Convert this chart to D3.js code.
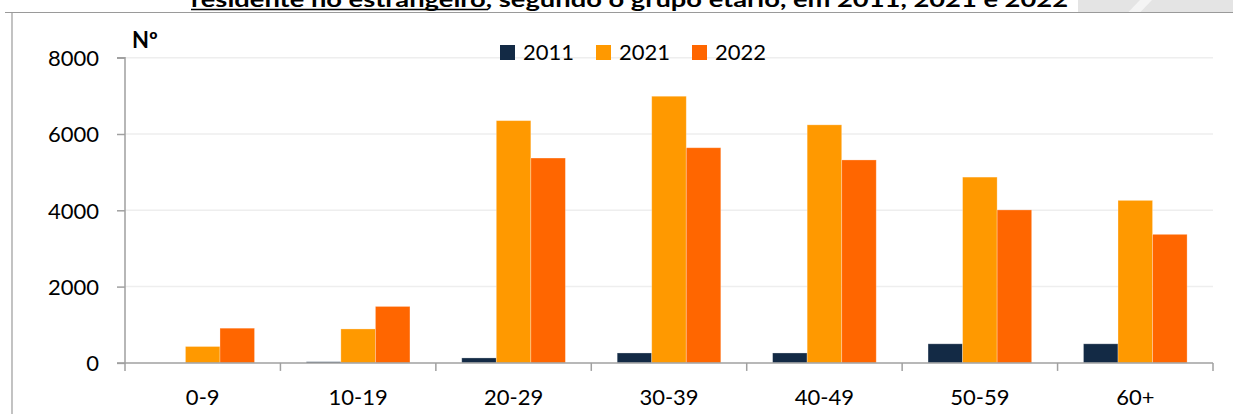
<!DOCTYPE html>
<html>
<head>
<meta charset="utf-8">
<script src="https://cdn.jsdelivr.net/npm/d3@7"></script>
<style>
  html, body { margin: 0; padding: 0; background: #fff; }
  svg { display: block; font-family: Lato, "Open Sans", sans-serif; }
</style>
</head>
<body>
<svg id="chart" width="1233" height="414"></svg>
<script>
const categories = ["0-9", "10-19", "20-29", "30-39", "40-49", "50-59", "60+"];
const seriesNames = ["2011", "2021", "2022"];
const values2011 = [0, 30, 130, 260, 260, 500, 500];
const values2021 = [430, 890, 6350, 6990, 6240, 4870, 4260];
const values2022 = [910, 1480, 5370, 5640, 5320, 4010, 3370];
const yTicks = [0, 2000, 4000, 6000, 8000];
const colors = ["#132a45", "#ff9900", "#ff6600"];
const titleStart = "residente no estrangeiro";
const titleRest = ", segundo o grupo etário, em 2011, 2021 e 2022";

const seriesValues = [values2011, values2021, values2022];
const svg = d3.select("#chart");

// decorative top-right band and frame
svg.append("rect").attr("x", 1078).attr("y", 0).attr("width", 155).attr("height", 12.5).attr("fill", "#e4e4e4");
svg.append("path").attr("d", "M1128,12.5 L1140,0 L1152,0 L1140,12.5 Z").attr("fill", "#f4f4f4");
svg.append("line").attr("x1", 5).attr("x2", 1233).attr("y1", 12.5).attr("y2", 12.5).attr("stroke", "#9a9a9a").attr("stroke-width", 1.2);
svg.append("line").attr("x1", 12).attr("x2", 12).attr("y1", 12.5).attr("y2", 414).attr("stroke", "#9a9a9a").attr("stroke-width", 1.2);

// title (cut off at top, as in the reference)
const title = svg.append("text").attr("x", 191).attr("y", 6.5)
  .attr("font-weight", "bold").attr("font-size", 21).attr("fill", "#000")
  .attr("textLength", 877).attr("lengthAdjust", "spacingAndGlyphs");
title.append("tspan").text(titleStart);
title.append("tspan").text(titleRest);
svg.append("line").attr("x1", 191).attr("x2", 488).attr("y1", 9.5).attr("y2", 9.5).attr("stroke", "#000").attr("stroke-width", 1.6);

const plotLeft = 125, plotRight = 1213, plotTop = 57.7, plotBottom = 362.9;
const y = d3.scaleLinear().domain([0, 8000]).range([plotBottom, plotTop]);
const x0 = d3.scaleBand().domain(categories).range([plotLeft, plotRight]).padding(0);
const bw = x0.bandwidth();
const x1 = d3.scaleBand().domain(seriesNames).range([bw / 6, bw * 5 / 6]).padding(0);

// gridlines
svg.append("g").selectAll("line").data(yTicks.filter(d => d > 0)).join("line")
  .attr("x1", plotLeft).attr("x2", plotRight)
  .attr("y1", d => y(d)).attr("y2", d => y(d))
  .attr("stroke", "#eeeeee").attr("stroke-width", 1.5);

// bars
const groups = svg.append("g").selectAll("g").data(categories).join("g")
  .attr("transform", d => `translate(${x0(d)},0)`);
groups.selectAll("rect")
  .data((c, i) => seriesNames.map((s, j) => ({ s, j, v: seriesValues[j][i] })))
  .join("rect")
  .attr("x", d => x1(d.s))
  .attr("width", x1.bandwidth())
  .attr("y", d => y(d.v))
  .attr("height", d => y(0) - y(d.v))
  .attr("fill", d => colors[d.j])
  .attr("stroke", d => d.v > 0 ? "rgba(255,255,255,0.35)" : "none")
  .attr("stroke-width", 0.8);

// y axis
const yAxis = d3.axisLeft(y).tickValues(yTicks).tickSize(8).tickFormat(d3.format("d"));
const gy = svg.append("g").attr("transform", `translate(${plotLeft},0)`).call(yAxis);
gy.select(".domain").attr("stroke", "#a0a0a0").attr("stroke-width", 1.5).attr("d", `M-8,${plotTop}H0V${plotBottom}H-8`);
gy.selectAll(".tick line").attr("stroke", "#a0a0a0").attr("stroke-width", 1.5);
gy.selectAll(".tick text").attr("x", -26).attr("dy", "0.36em")
  .attr("font-size", 22).attr("font-family", "Lato, sans-serif").attr("fill", "#000");

// x axis
const xAxis = d3.axisBottom(x0).tickSize(0).tickPadding(0);
const gx = svg.append("g").attr("transform", `translate(0,${plotBottom})`).call(xAxis);
gx.select(".domain").attr("stroke", "#a0a0a0").attr("stroke-width", 1.5).attr("d", `M${plotLeft},0H${plotRight}`);
gx.selectAll(".tick text").attr("y", 42).attr("dy", 0)
  .attr("font-size", 22).attr("font-family", "Lato, sans-serif").attr("fill", "#000");
const boundaries = categories.map(c => x0(c)).concat([plotRight]);
gx.append("g").selectAll("line").data(boundaries).join("line")
  .attr("x1", d => d).attr("x2", d => d).attr("y1", 0).attr("y2", 8)
  .attr("stroke", "#a0a0a0").attr("stroke-width", 1.5);

// unit label
svg.append("text").attr("x", 132).attr("y", 48).attr("font-weight", "bold")
  .attr("font-size", 22).attr("fill", "#000").text("Nº");

// legend
const legendX = [500, 596, 692];
const lg = svg.append("g").selectAll("g").data(seriesNames).join("g")
  .attr("transform", (d, i) => `translate(${legendX[i]},45)`);
lg.append("rect").attr("width", 15).attr("height", 15).attr("fill", (d, i) => colors[i]);
lg.append("text").attr("x", 23).attr("y", 15).attr("font-size", 22).attr("fill", "#000").text(d => d);
</script>
</body>
</html>
